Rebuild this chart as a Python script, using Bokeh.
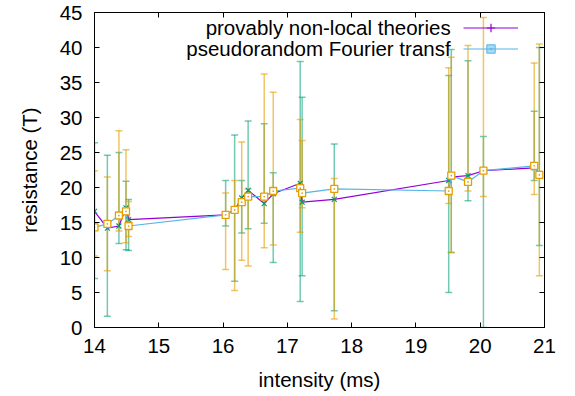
from bokeh.plotting import figure
from bokeh.models import (Range1d, LinearAxis, FixedTicker, Whisker, TeeHead,
                          ColumnDataSource, Legend, LegendItem, Label, CustomLabelingPolicy)
from bokeh.embed import file_html
from bokeh.resources import INLINE

# ---- data ----
intensity = [14.0, 14.2, 14.38, 14.49, 14.53, 16.04, 16.18, 16.29, 16.39, 16.64,
             16.78, 17.2, 17.23, 17.73, 19.51, 19.55, 19.81, 20.05, 20.84, 20.92]
theories = [16.6, 14.2, 14.5, 17.1, 15.4, 16.1, 16.8, 18.5, 19.6, 17.7,
            19.1, 20.6, 17.9, 18.3, 21.0, 21.5, 21.7, 22.4, 22.8, 22.0]
theories_low = [7.0, 1.6, 12.0, 11.1, 11.0, 14.5, 6.6, 13.5, 14.1, 14.9,
                9.3, 3.7, 7.4, 2.4, 5.0, 10.7, 18.1, 0.0, 21.0, 11.7]
theories_high = [26.4, 24.6, 25.0, 20.9, 18.3, 21.0, 27.5, 21.0, 29.5, 29.1,
                 22.1, 38.0, 32.9, 26.2, 36.0, 39.7, 38.1, 27.3, 30.9, 40.0]
fourier = [14.3, 14.8, 16.0, 16.6, 14.5, 16.1, 16.8, 17.9, 18.7, 18.7,
           19.5, 19.9, 19.2, 19.8, 19.5, 21.7, 20.8, 22.4, 23.1, 21.8]
fourier_low = [10.2, 8.1, 13.8, 12.1, 13.0, 8.3, 5.3, 9.6, 8.8, 11.4,
               11.8, 13.6, 17.1, 1.2, 17.7, 10.7, 19.5, 18.7, 19.0, 7.4]
fourier_high = [22.4, 21.5, 28.1, 25.4, 18.0, 19.2, 21.0, 26.5, 19.8, 36.2,
                33.6, 29.7, 26.7, 21.3, 37.1, 38.6, 40.3, 44.3, 37.8, 40.5]

series_names = ["provably non-local theories", "pseudorandom Fourier transf"]
x_ticks = [14, 15, 16, 17, 18, 19, 20, 21]
y_ticks = [0, 5, 10, 15, 20, 25, 30, 35, 40, 45]
x_label = "intensity (ms)"
y_label = "resistance (T)"

PURPLE = "#9400d3"
TEAL = "#009e73"
BLUE = "#56b4e9"
ORANGE = "#e69f00"
FONT = "Liberation Sans"
FS = "20.5px"

src = ColumnDataSource(dict(x=intensity, t=theories, tl=theories_low, th=theories_high,
                            f=fourier, fl=fourier_low, fh=fourier_high))

W, H = 573, 394
p = figure(width=W, height=H, output_backend="svg", toolbar_location=None,
           x_range=Range1d(14, 21), y_range=Range1d(0, 45),
           min_border_left=94, min_border_right=W - 544, min_border_top=12,
           min_border_bottom=H - 327)
p.xgrid.visible = False
p.ygrid.visible = False
p.outline_line_color = "black"
p.outline_line_width = 1
p.background_fill_color = "white"
p.border_fill_color = "white"

for ax in (p.xaxis[0], p.yaxis[0]):
    ax.major_tick_in = 5
    ax.major_tick_out = 0
    ax.minor_tick_line_color = None
    ax.axis_line_color = "black"
    ax.major_tick_line_color = "black"
    ax.major_label_text_font = FONT
    ax.major_label_text_font_size = FS
    ax.major_label_text_color = "black"
    ax.axis_label_text_font = FONT
    ax.axis_label_text_font_size = FS
    ax.axis_label_text_font_style = "normal"
    ax.axis_label_text_color = "black"
p.xaxis[0].ticker = FixedTicker(ticks=x_ticks)
p.yaxis[0].ticker = FixedTicker(ticks=y_ticks)
p.xaxis[0].axis_label = x_label
p.yaxis[0].axis_label = y_label
p.xaxis[0].major_label_standoff = 11
p.xaxis[0].axis_label_standoff = 12
p.yaxis[0].major_label_standoff = 12
p.yaxis[0].axis_label_standoff = 16

# mirrored ticks on top and right (no labels drawn)
no_labels = "const all = [...indices]; for (const i of all) { indices.unset(i) } return indices"
top = LinearAxis(ticker=FixedTicker(ticks=x_ticks), major_tick_in=5, major_tick_out=0,
                 minor_tick_line_color=None, major_label_standoff=0, axis_line_color="black",
                 major_label_policy=CustomLabelingPolicy(code=no_labels))
right = LinearAxis(ticker=FixedTicker(ticks=y_ticks), major_tick_in=5, major_tick_out=0,
                   minor_tick_line_color=None, major_label_standoff=0, axis_line_color="black",
                   major_label_policy=CustomLabelingPolicy(code=no_labels))
p.add_layout(top, "above")
p.add_layout(right, "right")

# series 1
l1 = p.line("x", "t", source=src, line_color=PURPLE, line_width=1.2)
p.add_layout(Whisker(source=src, base="x", lower="tl", upper="th", line_color=TEAL,
                     line_alpha=0.55, line_width=1.5,
                     lower_head=TeeHead(size=7, line_color=TEAL, line_alpha=0.55, line_width=1.5),
                     upper_head=TeeHead(size=7, line_color=TEAL, line_alpha=0.55, line_width=1.5)))
p.scatter("x", "t", source=src, marker="x", size=7, line_color=TEAL, line_width=1.2)
d1 = p.scatter("x", "t", source=src, marker="cross", size=0, line_color=PURPLE, line_width=1.2)

# series 2
l2 = p.line("x", "f", source=src, line_color=BLUE, line_width=1.2)
p.add_layout(Whisker(source=src, base="x", lower="fl", upper="fh", line_color=ORANGE,
                     line_alpha=0.6, line_width=1.5,
                     lower_head=TeeHead(size=7, line_color=ORANGE, line_alpha=0.6, line_width=1.5),
                     upper_head=TeeHead(size=7, line_color=ORANGE, line_alpha=0.6, line_width=1.5)))
p.scatter("x", "f", source=src, marker="square_dot", size=7, line_color=ORANGE,
          fill_color="white", line_width=1.3)
d2 = p.scatter("x", "f", source=src, marker="square_dot", size=0, line_color=BLUE,
               fill_color=BLUE, fill_alpha=0.5, line_width=1)

# gnuplot-style key: samples via a Legend, texts right-aligned to their left
legend = Legend(items=[LegendItem(label="", renderers=[l1, d1]),
                       LegendItem(label="", renderers=[l2, d2])],
                location=(369, 268), glyph_width=55, glyph_height=21, label_width=0,
                label_height=21, label_standoff=0, padding=0, margin=0, spacing=0,
                border_line_color=None, background_fill_alpha=0)
p.add_layout(legend, "center")

for i, name in enumerate(series_names):
    p.add_layout(Label(x=19.54, y=42.86 - 3.0 * i, text=name, text_align="right",
                       text_baseline="middle", text_font=FONT, text_font_size=FS,
                       text_color="black"))

open("out.html", "w").write(file_html(p, INLINE))
